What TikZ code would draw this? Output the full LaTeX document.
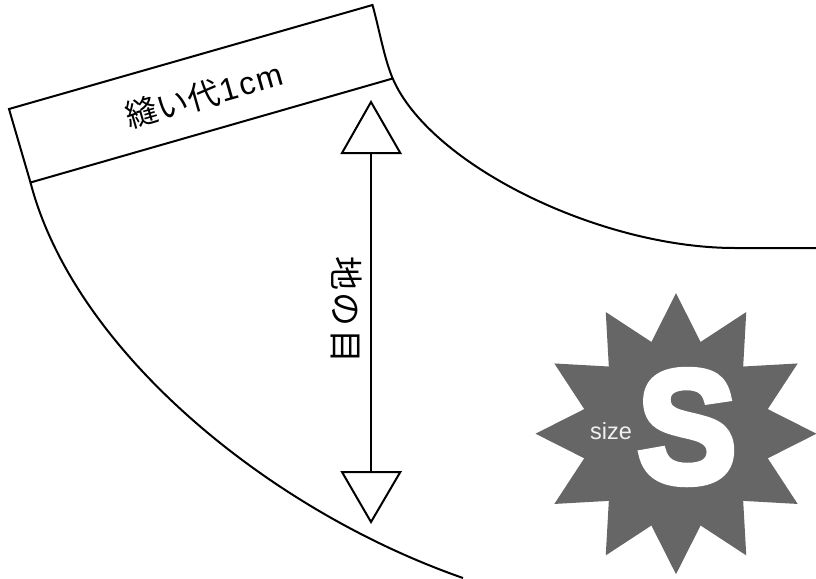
\documentclass[tikz,border=0pt]{standalone}
\usepackage{fontspec}
\setmainfont{Liberation Sans}
\newfontfamily\jpfont{Noto Sans CJK JP}
\newfontfamily\heavyfont[FakeBold=4.5]{Liberation Sans Bold}
\newfontfamily\latinfont{Liberation Sans}
\definecolor{stargray}{HTML}{666666}
\tikzset{
  outline/.style={draw=black,line width=2pt,line join=miter},
  txt/.style={inner sep=0pt,text=black,font=\jpfont\fontsize{32}{32}\selectfont},
}
\begin{document}
\begin{tikzpicture}[x=1pt,y=-1pt]
\useasboundingbox (0,0) rectangle (816,578);
\fill[white] (0,0) rectangle (816,578);
% band
\coordinate (tr) at (372.5,5);
\coordinate (tl) at (9,109);
\coordinate (bl) at (30.5,182.5);
\coordinate (br) at (392.7,78.5);
\draw[outline] (bl) -- (tl) -- (tr) .. controls (379,28) and (384,58) .. (br) -- cycle;
% curves
\coordinate (re) at (816,248);
\coordinate (le) at (463,578);
\draw[outline] (br) .. controls (430,165) and (600,248) .. (735,248) -- (re);
\draw[outline] (bl) .. controls (74,350) and (268,510) .. (le);
% grain arrow
\coordinate (a1) at (371,102);
\coordinate (a2) at (342,153);
\coordinate (a3) at (400.3,153);
\coordinate (b1) at (371,522);
\coordinate (b2) at (342,472);
\coordinate (b3) at (400.3,472);
\draw[outline] (a1) -- (a2) -- (a3) -- cycle;
\draw[outline] (b1) -- (b2) -- (b3) -- cycle;
\draw[outline] (a2 -| a1) -- (b2 -| b1);
% star
\fill[stargray] (676,433.7) +(0:140.5)
  \foreach \k in {1,...,23} {
    \ifodd\k -- +({\k*15}:95) \else -- +({\k*15}:140.5) \fi
  } -- cycle;
% labels
\node[txt,rotate=16] (seam) at (204,95) {縫い代{\latinfont\fontsize{32}{32}\selectfont\kern1pt 1\kern3pt c\kern1pt m}};
\node[txt,rotate=-90,font=\jpfont\fontsize{34}{34}\selectfont] (grain) at (347,310) {地\kern3pt の\kern3pt 目};
\node[inner sep=0pt,text=white!90!stargray,font=\fontsize{23.5}{24}\selectfont] (size) at (611,431) {size};
\node[inner sep=0pt,text=white,xscale=0.93,font=\heavyfont\fontsize{160}{160}\selectfont] (big) at (687,427) {S};
\end{tikzpicture}
\end{document}
